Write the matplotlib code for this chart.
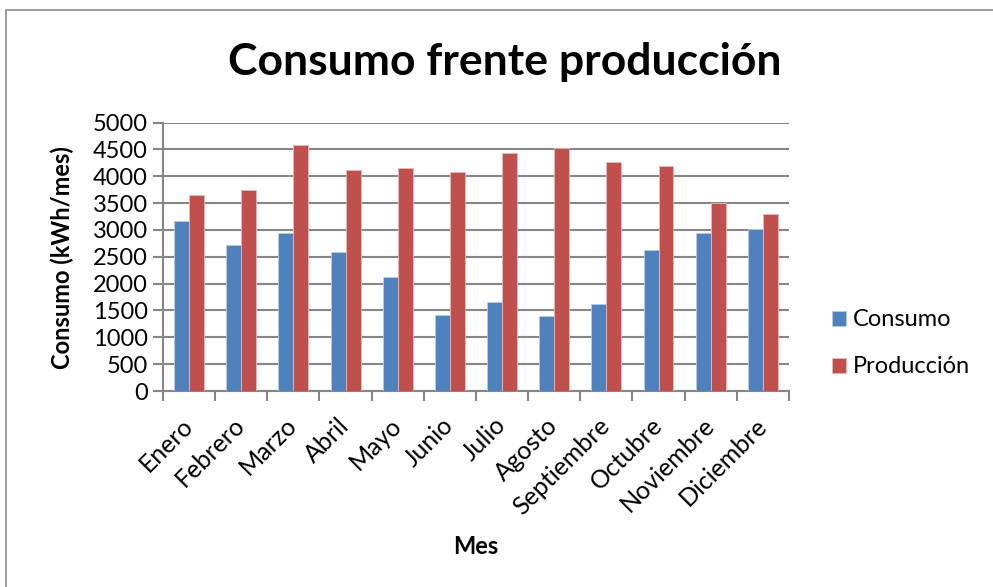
import matplotlib
matplotlib.use("Agg")
import matplotlib.pyplot as plt
import numpy as np
from matplotlib.patches import Rectangle

meses = ["Enero", "Febrero", "Marzo", "Abril", "Mayo", "Junio", "Julio",
         "Agosto", "Septiembre", "Octubre", "Noviembre", "Diciembre"]
consumo = [3160, 2710, 2945, 2590, 2115, 1420, 1660, 1400, 1620, 2620, 2945, 3020]
produccion = [3650, 3740, 4590, 4115, 4145, 4070, 4430, 4525, 4260, 4190, 3500, 3300]
yticks = [0, 500, 1000, 1500, 2000, 2500, 3000, 3500, 4000, 4500, 5000]

plt.rcParams["font.family"] = ["Lato", "DejaVu Sans"]

fig = plt.figure(figsize=(9.93, 5.87), dpi=100)
# outer chart border (cut off at right and bottom)
fig.patches.append(Rectangle((6 / 993, -0.1), 1.2, 1 - 10 / 587 + 0.1,
                             transform=fig.transFigure, fill=False,
                             edgecolor="#8c8c8c", linewidth=1.2))
ax = fig.add_axes([0.1641, 0.3339, 0.6304, 0.4574])

x = np.arange(len(meses))
w = 0.287
ax.bar(x - w / 2, consumo, w, color="#4F81BD", edgecolor="#b8cce4",
       linewidth=0.6, label="Consumo", zorder=3)
ax.bar(x + w / 2, produccion, w, color="#C0504D", edgecolor="#e6b9b8",
       linewidth=0.6, label="Producción", zorder=3)

ax.set_xlim(-0.5, len(meses) - 0.5)
ax.set_ylim(0, 5000)
ax.set_yticks(yticks)
ax.yaxis.grid(True, color="#868686", linewidth=1.5, zorder=0)
ax.set_axisbelow(True)
for s in ["top", "right"]:
    ax.spines[s].set_visible(False)
for s in ["left", "bottom"]:
    ax.spines[s].set_color("#868686")
    ax.spines[s].set_linewidth(1.5)
ax.tick_params(axis="y", length=7, width=1.5, color="#868686",
               labelsize=17, pad=4)

ax.set_xticks(x)
ax.set_xticklabels(meses, rotation=45, ha="right", va="center",
                   rotation_mode="anchor", fontsize=18)
ax.tick_params(axis="x", which="major", length=0, pad=22)
ax.set_xticks(np.arange(-0.5, len(meses)), minor=True)
ax.tick_params(axis="x", which="minor", length=7, width=1.5, color="#868686")

fig.text(62 / 993, 1 - 258 / 587, "Consumo (kWh/mes)", fontsize=17,
         fontweight="bold", rotation=90, ha="center", va="center")
fig.text(476 / 993, 1 - 547 / 587, "Mes", fontsize=17, fontweight="bold",
         ha="center", va="center")
fig.text(0.5086, 1 - 62 / 587, "Consumo frente producción", fontsize=32,
         fontweight="bold", ha="center", va="center")

ax.legend(loc="center left", bbox_to_anchor=(1.0687, 0.177), frameon=False,
          fontsize=17, handlelength=0.6, handleheight=0.6, handletextpad=0.3,
          labelspacing=1.1, borderaxespad=0, borderpad=0)

fig.savefig("out.png", dpi=100)
